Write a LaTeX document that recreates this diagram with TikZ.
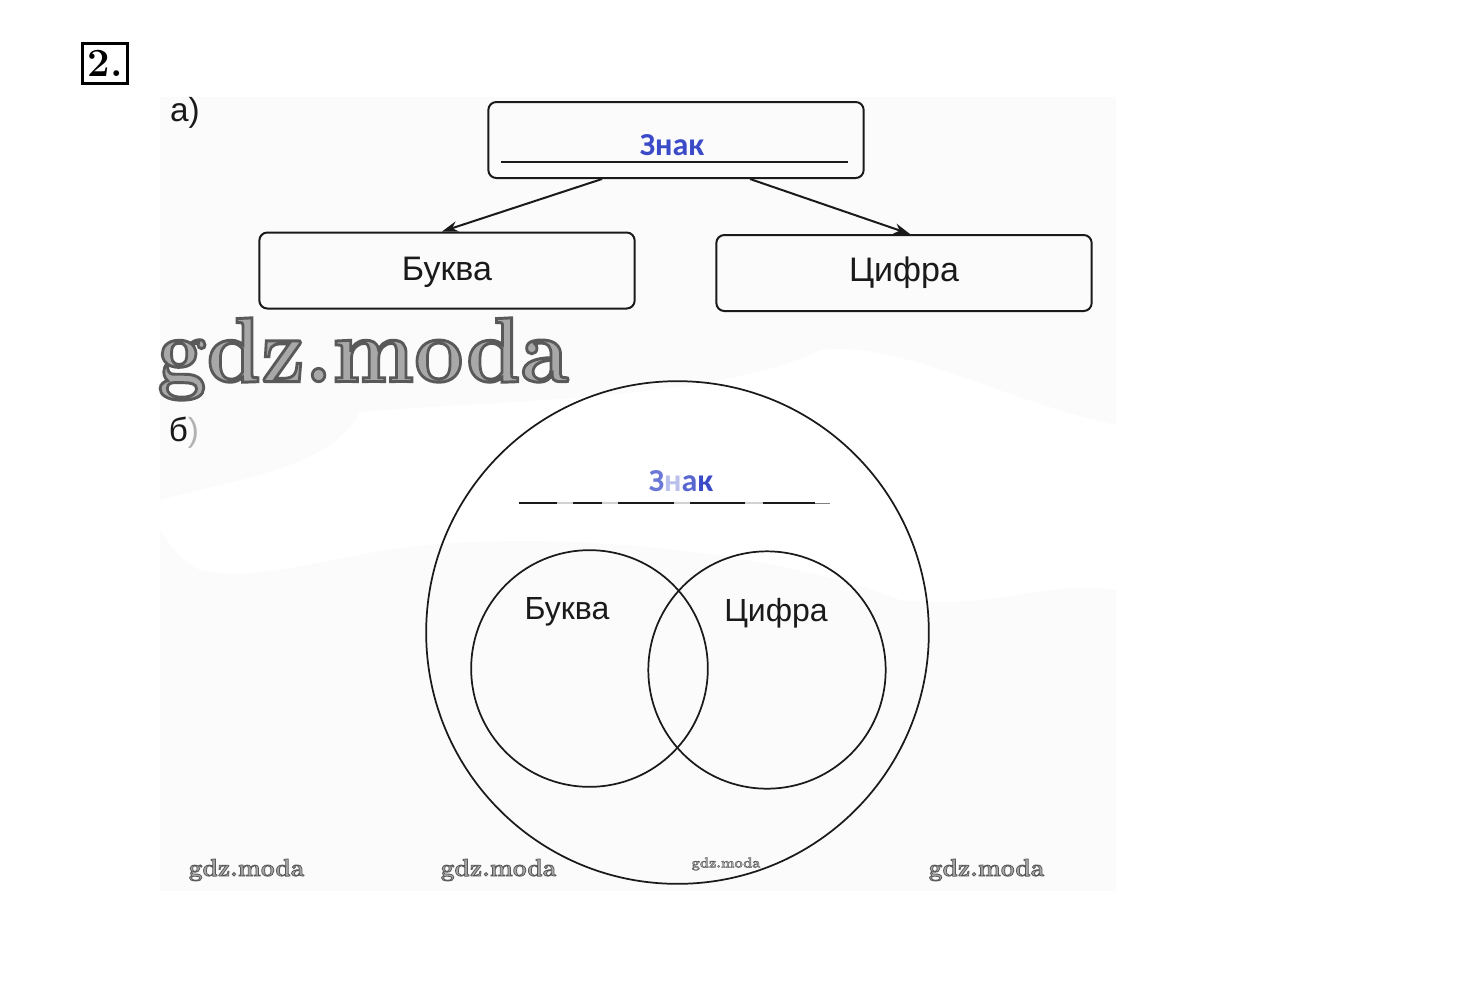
\documentclass[tikz,border=0pt]{standalone}
\usepackage{fontspec}
\setmainfont{Liberation Sans}
\newfontfamily\wmfont{Latin Modern Roman}
\newfontfamily\zfont{Carlito}
\definecolor{zblue}{HTML}{3B4BC8}
\definecolor{pagegray}{HTML}{FBFBFB}
\definecolor{inkc}{HTML}{1A1A1A}
\definecolor{wmfill}{HTML}{A0A0A0}
\usetikzlibrary{arrows.meta}
\newcommand{\wmtext}[1]{\special{pdf:code q 2 Tr #1 w 0.35 G 0.66 g}gdz.moda\special{pdf:code 0 Tr Q}}
\tikzset{
  termbox/.style={draw=inkc,line width=1.5pt,rounded corners=6pt,minimum width=281.5pt,minimum height=57pt,inner sep=0pt},
  lab/.style={text=inkc,inner sep=0pt,anchor=center},
  zlab/.style={text=zblue,inner sep=0pt,anchor=center,font=\zfont\fontsize{24}{24}\selectfont\bfseries},
  setcircle/.style={draw=inkc,line width=1.3pt,circle,inner sep=0pt},
  wm/.style={inner sep=0pt,anchor=center,text=wmfill},
  arrowline/.style={draw=inkc,line width=1.5pt,-{Stealth[length=12pt,width=8pt]}},
}
\begin{document}
\begin{tikzpicture}[x=0.75pt,y=-0.75pt]
\useasboundingbox (0,0) rectangle (1460,997);
\fill[white] (0,0) rectangle (1460,997);
\fill[pagegray] (160,97) rectangle (1116,891);
\fill[white] (360,412) .. controls (500,400) and (720,400) .. (820,350) .. controls (900,340) and (1000,400) .. (1116,425) -- (1116,590) .. controls (1040,580) and (1000,610) .. (900,600) .. controls (800,560) and (600,530) .. (430,545) .. controls (350,550) and (260,585) .. (200,570) .. controls (180,560) and (170,545) .. (160,530) -- (160,500) .. controls (230,480) and (330,470) .. (360,412) -- cycle;
% exercise number
\node[draw=black,line width=2.3pt,minimum width=34pt,minimum height=30.5pt,inner sep=0pt,font=\wmfont\fontsize{30}{30}\selectfont\bfseries] (num) at (105,63.5) {2.};
% labels
\node[lab,font=\fontsize{25}{25}\selectfont] (la) at (185,113) {а)};
\node[lab,font=\fontsize{25}{25}\selectfont] (lb) at (184,433) {б\textcolor{gray!60}{)}};
% tree
\node[termbox] (zn) at (676,140) {};
\node[zlab] (znt) at (672,145) {Знак};
\draw[inkc,line width=0.9pt] (501,162) coordinate (l1) -- (848,162) coordinate (l2);
\node[termbox,font=\fontsize{25.5}{25.5}\selectfont,text=inkc] (buk) at (447,270.5) {\raisebox{-1.5pt}[\height][\depth]{Буква}};
\node[termbox,font=\fontsize{25.5}{25.5}\selectfont,text=inkc] (cif) at (904,273) {Цифра};
\draw[arrowline] ([xshift=-55.5pt]zn.south) -- ([xshift=-3.75pt]buk.north);
\draw[arrowline] ([xshift=55.5pt]zn.south) -- ([xshift=4.5pt]cif.north);
% watermark
\node[wm,xscale=.95,font=\wmfont\fontsize{69}{69}\selectfont\bfseries] (wmbig) at (363,359) {\wmtext{2.2}};
\node[wm,font=\wmfont\fontsize{18.4}{18.4}\selectfont\bfseries] (wm1) at (246.5,870) {\wmtext{0.6}};
\node[wm,font=\wmfont\fontsize{18.4}{18.4}\selectfont\bfseries] (wm2) at (498.5,870) {\wmtext{0.6}};
\node[wm,font=\wmfont\fontsize{10.7}{10.7}\selectfont\bfseries] (wm3) at (726,864) {\wmtext{0.3}};
\node[wm,font=\wmfont\fontsize{18.4}{18.4}\selectfont\bfseries] (wm4) at (986.5,870) {\wmtext{0.6}};
% sets
\node[setcircle,minimum size=377pt] (big) at (677.5,632.5) {};
\node[setcircle,minimum size=177.5pt] (ca) at (589.5,668.5) {};
\node[setcircle,minimum size=178pt] (cb) at (767,670) {};
\node[lab,font=\fontsize{24}{24}\selectfont] (ta) at (567,612) {Буква};
\node[lab,font=\fontsize{24}{24}\selectfont] (tb) at (776,613) {Цифра};
\node[zlab] (znb) at (681,481) {\textcolor{zblue!75}{З}\textcolor{zblue!35}{н}\textcolor{zblue!85}{а}к};
% broken rule
\draw[gray!35,line width=1pt] (519,503) -- (815,503);
\foreach \a/\b in {519/557,573/602,618/674,690/745,763/815}
  \draw[inkc,line width=1.1pt] (\a,503) -- (\b,503);
\draw[gray,line width=0.6pt] (815,503.5) -- (830,503.5);
\end{tikzpicture}
\end{document}
